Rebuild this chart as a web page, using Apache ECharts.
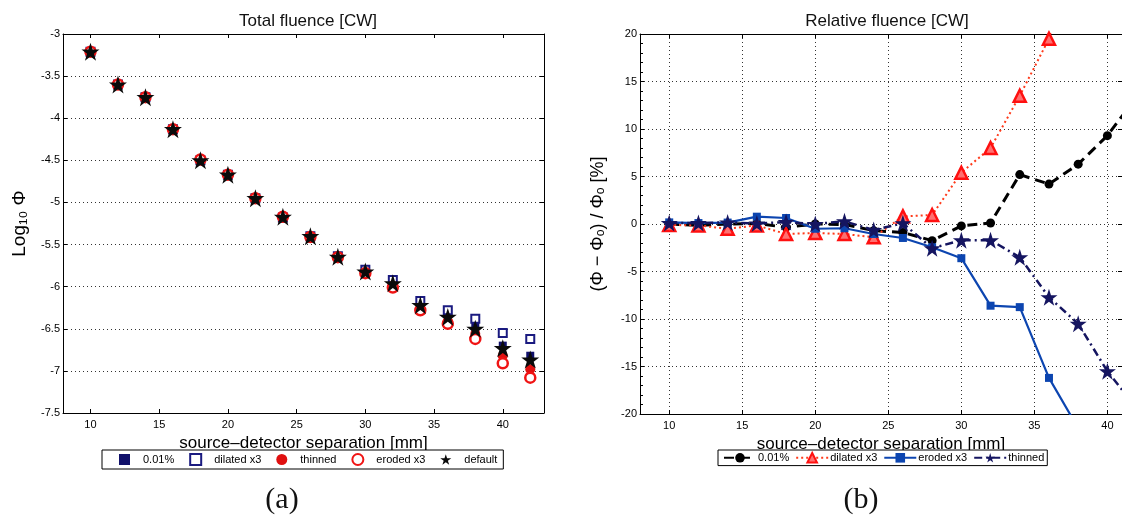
<!DOCTYPE html>
<html><head><meta charset="utf-8">
<script src="https://cdn.jsdelivr.net/npm/echarts@6/dist/echarts.min.js"></script>
<style>html,body{margin:0;padding:0;background:#fff}#c{width:1122px;height:519px}</style>
</head><body><div id="c"></div>
<script>
// ---- data ----
const sep = [10,12,14,16,18,20,22,24,26,28,30,32,34,36,38,40,42];
const xTicks = [10,15,20,25,30,35,40];
// Total fluence (log10 Φ)
const tot001     = [-3.21,-3.60,-3.75,-4.13,-4.50,-4.67,-4.95,-5.17,-5.40,-5.65,-5.82,-5.92,-6.19,-6.32,-6.47,-6.70,-6.82];
const totDilated = [-3.21,-3.60,-3.75,-4.13,-4.50,-4.67,-4.95,-5.18,-5.40,-5.64,-5.80,-5.92,-6.17,-6.28,-6.38,-6.55,-6.62];
const totThinned = [-3.21,-3.60,-3.75,-4.13,-4.49,-4.67,-4.95,-5.17,-5.40,-5.65,-5.83,-5.99,-6.26,-6.41,-6.56,-6.82,-6.98];
const totEroded  = [-3.21,-3.60,-3.75,-4.13,-4.49,-4.67,-4.95,-5.17,-5.41,-5.65,-5.84,-6.01,-6.28,-6.44,-6.62,-6.91,-7.08];
const totDefault = [-3.21,-3.60,-3.75,-4.13,-4.50,-4.67,-4.95,-5.17,-5.40,-5.645,-5.82,-5.96,-6.22,-6.36,-6.50,-6.73,-6.865];
// Relative fluence (%)
const rel001     = [0.0,-0.15,0.0,0.05,-0.35,0.0,-0.05,-0.7,-0.9,-1.75,-0.2,0.1,5.2,4.2,6.3,9.3,13.4];
const relDilated = [-0.1,-0.15,-0.5,-0.15,-1.05,-0.95,-1.05,-1.4,0.8,0.95,5.4,8.0,13.5,19.5,32,50,76];
const relEroded  = [0.17,0.1,0.15,0.77,0.63,-0.5,-0.45,-1.05,-1.47,-2.45,-3.6,-8.6,-8.75,-16.2,-21.5,-34,-39];
const relThinned = [0.1,0.1,0.17,0.05,0.2,0.0,0.28,-0.63,0.07,-2.55,-1.7,-1.7,-3.5,-7.7,-10.5,-15.5,-19.4];

const pair = arr => sep.map((x,i)=>[x,arr[i]]);
const STAR = 'path://M100,0 L122.45,69.1 L195.11,69.1 L136.33,111.8 L158.78,180.9 L100,138.2 L41.22,180.9 L63.67,111.8 L4.89,69.1 L77.55,69.1 Z';
const FONT = 'Liberation Sans, Arial, sans-serif';
const ZW = '\u200b';
const dotted = {type:[1,3], color:'#333', width:1};

function xAx(grid, max, split){
  return [{
    type:'value', gridIndex:grid, min:8, max:max,
    axisLine:{show:true, onZero:false, lineStyle:{color:'#000', width:1}},
    axisTick:{show:true, inside:true, length:4, customValues:xTicks, lineStyle:{color:'#000'}},
    axisLabel:{show:true, customValues:xTicks, margin:6, color:'#000', fontSize:11, fontFamily:FONT},
    splitLine:{show:split, lineStyle:dotted},
    name:'source\u2013detector separation [mm]', nameLocation:'middle', nameGap:14,
    nameTextStyle:{fontSize:17, color:'#000', fontFamily:FONT}
  },{
    type:'value', gridIndex:grid, min:8, max:max, position:'top',
    axisLine:{show:true, onZero:false, lineStyle:{color:'#000', width:1}},
    axisTick:{show:true, inside:true, length:4, customValues:xTicks, lineStyle:{color:'#000'}},
    axisLabel:{show:false}, splitLine:{show:false}
  }];
}

const opt = {
  animation:false,
  backgroundColor:'#fff',
  title:[
    {text:'Total fluence [CW]', left:303, top:8, textAlign:'center', textStyle:{fontSize:17, fontWeight:'normal', color:'#111', fontFamily:FONT}},
    {text:'Relative fluence [CW]', left:882, top:8, textAlign:'center', textStyle:{fontSize:17, fontWeight:'normal', color:'#111', fontFamily:FONT}},
    {text:'(a)', left:277, top:480, textAlign:'center', textStyle:{fontSize:30, fontWeight:'normal', color:'#111', fontFamily:'Liberation Serif, DejaVu Serif, serif'}},
    {text:'(b)', left:856, top:480, textAlign:'center', textStyle:{fontSize:30, fontWeight:'normal', color:'#111', fontFamily:'Liberation Serif, DejaVu Serif, serif'}}
  ],
  grid:[
    {left:63, top:34, width:481, height:379, show:false},
    {left:640, top:34, width:485, height:380, show:false}
  ],
  xAxis:[...xAx(0,43,false), ...xAx(1,41,true)],
  yAxis:[
    {type:'value', gridIndex:0, min:-7.5, max:-3, interval:0.5,
     axisLine:{show:true, onZero:false, lineStyle:{color:'#000'}},
     axisTick:{show:true, inside:true, length:4, lineStyle:{color:'#000'}},
     axisLabel:{margin:3, color:'#000', fontSize:11, fontFamily:FONT},
     splitLine:{show:true, lineStyle:dotted},
     name:'Log\u2081\u2080 \u03A6', nameLocation:'middle', nameGap:34, nameRotate:90,
     nameTextStyle:{fontSize:19, color:'#000', fontFamily:FONT}},
    {type:'value', gridIndex:0, min:-7.5, max:-3, interval:0.5, position:'right',
     axisLine:{show:true, onZero:false, lineStyle:{color:'#000'}},
     axisTick:{show:true, inside:true, length:4, lineStyle:{color:'#000'}},
     axisLabel:{show:false}, splitLine:{show:false}},
    {type:'value', gridIndex:1, min:-20, max:20, interval:5,
     axisLine:{show:true, onZero:false, lineStyle:{color:'#000'}},
     axisTick:{show:true, inside:true, length:4, lineStyle:{color:'#000'}},
     minorTick:{show:true, splitNumber:5, length:3, lineStyle:{color:'#000'}},
     axisLabel:{margin:3, color:'#000', fontSize:11, fontFamily:FONT},
     splitLine:{show:true, lineStyle:dotted},
     name:'(\u03A6 \u2212 \u03A6\u2092) / \u03A6\u2092 [%]', nameLocation:'middle', nameGap:33, nameRotate:90,
     nameTextStyle:{fontSize:18, color:'#000', fontFamily:FONT}},
    {type:'value', gridIndex:1, min:-20, max:20, interval:5, position:'right',
     axisLine:{show:true, onZero:false, lineStyle:{color:'#000'}},
     axisTick:{show:true, inside:true, length:4, lineStyle:{color:'#000'}},
     axisLabel:{show:false}, splitLine:{show:false}}
  ],
  legend:[
    {left:102, top:450, orient:'horizontal', itemWidth:11, itemHeight:11, itemGap:15,
     padding:[3,6,3,17], borderColor:'#000', borderWidth:1, backgroundColor:'#fff',
     textStyle:{fontSize:11, color:'#000', fontFamily:FONT, padding:[0,0,0,8]},
     data:['0.01%','dilated x3','thinned','eroded x3','default']},
    {left:718, top:450, orient:'horizontal', itemWidth:32, itemHeight:12, itemGap:6,
     padding:[2,3,2,5], borderColor:'#000', borderWidth:1, backgroundColor:'#fff',
     textStyle:{fontSize:11, color:'#000', fontFamily:FONT, padding:[0,0,0,-3]},
     data:['0.01%'+ZW,'dilated x3'+ZW,'eroded x3'+ZW,'thinned'+ZW]}
  ],
  series:[
    {name:'0.01%', type:'scatter', xAxisIndex:0, yAxisIndex:0, data:pair(tot001),
     symbol:'rect', symbolSize:8, symbolKeepAspect:true, itemStyle:{color:'#10106a', opacity:1}},
    {name:'dilated x3', type:'scatter', xAxisIndex:0, yAxisIndex:0, data:pair(totDilated),
     symbol:'rect', symbolSize:8, symbolKeepAspect:true, itemStyle:{color:'#fff', borderColor:'#1a1a80', borderWidth:2, opacity:1}},
    {name:'thinned', type:'scatter', xAxisIndex:0, yAxisIndex:0, data:pair(totThinned),
     symbol:'circle', symbolSize:10, itemStyle:{color:'#e01010', opacity:1}},
    {name:'eroded x3', type:'scatter', xAxisIndex:0, yAxisIndex:0, data:pair(totEroded),
     symbol:'circle', symbolSize:10, itemStyle:{color:'#fff', borderColor:'#f01414', borderWidth:2.5, opacity:1}},
    {name:'default', type:'scatter', xAxisIndex:0, yAxisIndex:0, data:pair(totDefault),
     symbol:STAR, symbolSize:18, itemStyle:{color:'#0a0a0a', opacity:1}},

    {name:'0.01%'+ZW, type:'line', xAxisIndex:2, yAxisIndex:2, data:pair(rel001),
     symbol:'circle', symbolSize:9, showAllSymbol:true,
     lineStyle:{color:'#000', width:3, type:[10,6]}, itemStyle:{color:'#000'}},
    {name:'dilated x3'+ZW, type:'line', xAxisIndex:2, yAxisIndex:2, data:pair(relDilated),
     symbol:'triangle', symbolSize:12, showAllSymbol:true,
     lineStyle:{color:'#ff3a1a', width:2, type:[2,3]}, itemStyle:{color:'#ff7070', borderColor:'#ff1010', borderWidth:2.5}},
    {name:'eroded x3'+ZW, type:'line', xAxisIndex:2, yAxisIndex:2, data:pair(relEroded),
     symbol:'rect', symbolSize:8, showAllSymbol:true,
     lineStyle:{color:'#0c45b0', width:2.2, type:'solid'}, itemStyle:{color:'#0c45b0'}},
    {name:'thinned'+ZW, type:'line', xAxisIndex:2, yAxisIndex:2, data:pair(relThinned),
     symbol:STAR, symbolSize:17, showAllSymbol:true,
     lineStyle:{color:'#151560', width:2.5, type:[8,4,2,4]}, itemStyle:{color:'#151560'}}
  ]
};
const chart = echarts.init(document.getElementById('c'), null, {renderer:'canvas'});
chart.setOption(opt);
</script></body></html>
